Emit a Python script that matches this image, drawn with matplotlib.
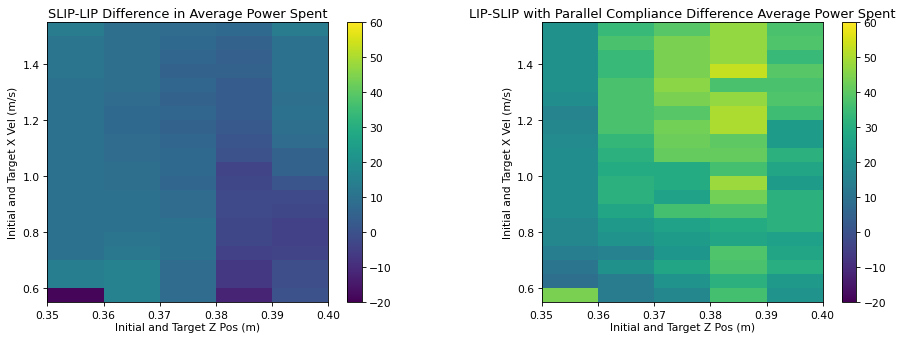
import numpy as np
import matplotlib
matplotlib.use("Agg")
import matplotlib.pyplot as plt

# grid edges: z position (columns) and x velocity (rows)
z_edges = [0.35, 0.36, 0.37, 0.38, 0.39, 0.40]
vel_edges = [0.55, 0.60, 0.65, 0.70, 0.75, 0.80, 0.85, 0.90, 0.95, 1.00, 1.05,
             1.10, 1.15, 1.20, 1.25, 1.30, 1.35, 1.40, 1.45, 1.50, 1.55]

# power difference per z column, listed from lowest to highest velocity
slip_lip_z035 = [-19, 14, 14, 10, 10, 10, 10, 10, 10, 10, 10, 10, 10, 10, 10, 10, 11, 11, 11, 13]
slip_lip_z036 = [15, 15, 15, 12, 11, 10, 10, 10, 9, 9, 8, 8, 7, 7, 8, 9, 9, 9, 9, 9]
slip_lip_z037 = [8, 8, 8, 10, 10, 10, 8, 8, 6, 7, 7, 6, 5, 6, 5, 6, 5, 6, 7, 8]
slip_lip_z038 = [-12, -7, -7, -5, -3, -3, -2, -2, -3, -4, 0, 1, 2, 3, 3, 3, 5, 4, 5, 7]
slip_lip_z039 = [0, -1, -1, -4, -5, -5, -3, -2, 1, 5, 5, 8, 9, 10, 9, 10, 10, 10, 10, 13]

lip_pc_z035 = [44, 9, 11, 14, 17, 17, 19, 19, 19, 19, 19, 18, 17, 16, 19, 20, 20, 20, 20, 20]
lip_pc_z036 = [13, 13, 20, 15, 21, 23, 27, 31, 31, 29, 31, 33, 37, 37, 37, 37, 34, 34, 37, 34]
lip_pc_z037 = [17, 21, 27, 22, 24, 26, 36, 26, 29, 29, 41, 42, 43, 39, 44, 46, 44, 44, 44, 39]
lip_pc_z038 = [36, 31, 37, 38, 27, 29, 37, 43, 48, 36, 41, 40, 50, 50, 47, 37, 53, 47, 47, 47]
lip_pc_z039 = [21, 23, 30, 27, 25, 31, 31, 31, 24, 27, 31, 24, 24, 35, 38, 37, 39, 34, 38, 37]

slip_lip = np.column_stack([slip_lip_z035, slip_lip_z036, slip_lip_z037,
                            slip_lip_z038, slip_lip_z039])
lip_pc = np.column_stack([lip_pc_z035, lip_pc_z036, lip_pc_z037,
                          lip_pc_z038, lip_pc_z039])

DPI = 77
W, H = 897.0, 343.0
fig = plt.figure(figsize=(W / DPI, H / DPI), dpi=DPI)

panels = [
    (slip_lip, "SLIP-LIP Difference in Average Power Spent",
     [47.3, 347.3]),
    (lip_pc, "LIP-SLIP with Parallel Compliance Difference Average Power Spent",
     [541.7, 841.7]),
]

bottom, top = 303.3, 22.7
for data, title, (ax_left, cb_left) in panels:
    ax = fig.add_axes([ax_left / W, (H - bottom) / H, 281.0 / W, (bottom - top) / H])
    cax = fig.add_axes([cb_left / W, (H - bottom) / H, 14.5 / W, (bottom - top) / H])
    mesh = ax.pcolormesh(z_edges, vel_edges, data, cmap="viridis", vmin=-20, vmax=60)
    ax.set_xticks([0.35, 0.36, 0.37, 0.38, 0.39, 0.40])
    ax.set_xticklabels(["0.35", "0.36", "0.37", "0.38", "0.39", "0.40"])
    ax.set_yticks([0.6, 0.8, 1.0, 1.2, 1.4])
    ax.set_xlim(0.35, 0.40)
    ax.set_ylim(0.55, 1.55)
    ax.set_xlabel("Initial and Target Z Pos (m)", labelpad=2)
    ax.set_ylabel("Initial and Target X Vel (m/s)")
    ax.set_title(title, fontsize=12, pad=4)
    cb = fig.colorbar(mesh, cax=cax)
    cb.set_ticks([-20, -10, 0, 10, 20, 30, 40, 50, 60])

fig.savefig("out.png", dpi=DPI)
